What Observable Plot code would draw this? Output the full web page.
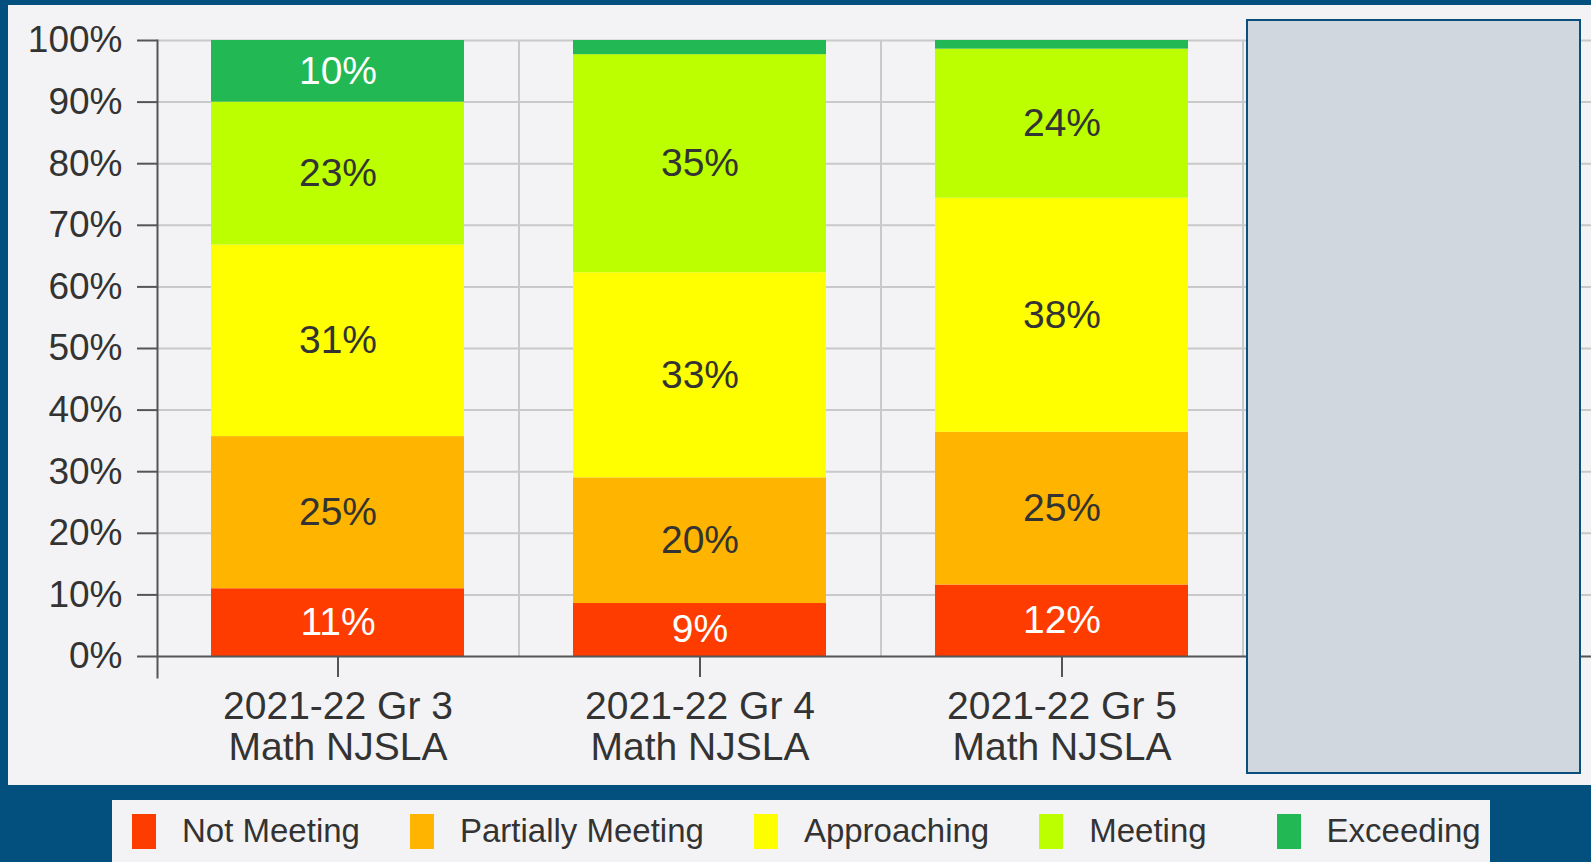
<!DOCTYPE html>
<html>
<head>
<meta charset="utf-8">
<script src="https://cdn.jsdelivr.net/npm/d3@7"></script>
<script src="https://cdn.jsdelivr.net/npm/@observablehq/plot@0.6"></script>
<style>
  html, body { margin: 0; padding: 0; width: 1591px; height: 862px; overflow: hidden; background: #03507f; font-family: "Liberation Sans", Arial, sans-serif; }
  #panel { position: absolute; left: 8px; top: 5px; width: 1583px; height: 780px; background: #f3f3f5; }
  #mask { position: absolute; left: 1246px; top: 19px; width: 331px; height: 751px; background: #d0d7df; border: 2px solid #0b4f7c; }
  #legend { position: absolute; left: 112px; top: 800px; width: 1378px; height: 62px; background: #f3f3f5; display: flex; align-items: center; box-sizing: border-box; padding-left: 20px; white-space: nowrap; }
  .item { display: flex; align-items: center; margin-right: 50px; flex-shrink: 0; }
  .item:nth-child(4) { margin-right: 70px; }
  .sw { width: 24px; height: 35px; margin-right: 26px; flex-shrink: 0; }
  .lab { font-size: 33px; color: #333; white-space: nowrap; }
</style>
</head>
<body>
<div id="panel"></div>
<div id="mask"></div>
<div id="legend"></div>
<script>
const categories = ["2021-22 Gr 3\nMath NJSLA", "2021-22 Gr 4\nMath NJSLA", "2021-22 Gr 5\nMath NJSLA"];
const levels = ["Not Meeting", "Partially Meeting", "Approaching", "Meeting", "Exceeding"];
const colors = ["#ff3c00", "#ffb400", "#ffff00", "#bbff00", "#22b854"];
const notMeeting = [11.0, 8.6, 11.6];
const partiallyMeeting = [24.7, 20.4, 24.8];
const approaching = [31.1, 33.3, 38.0];
const meeting = [23.2, 35.4, 24.2];
const exceeding = [10.0, 2.3, 1.4];
const yTicks = [0, 10, 20, 30, 40, 50, 60, 70, 80, 90, 100];
const whiteLabelLevels = ["Not Meeting", "Exceeding"];

const series = [notMeeting, partiallyMeeting, approaching, meeting, exceeding];
const rows = [];
categories.forEach((cat, i) => {
  levels.forEach((level, j) => rows.push({cat, level, value: series[j][i]}));
});
const labelOf = d => d.value >= 5 ? Math.round(d.value) + "%" : "";

const step = 362;
const chart = Plot.plot({
  width: 1583,
  height: 780,
  marginLeft: 149,
  marginTop: 35,
  marginBottom: 129,
  marginRight: 0,
  style: {background: "transparent", fontFamily: "'Liberation Sans', Arial, sans-serif", color: "#333"},
  x: {type: "band", domain: categories, range: [149, 149 + 3 * step], paddingInner: 0.3, paddingOuter: 0.15, label: null},
  y: {domain: [0, 100], label: null},
  color: {domain: levels, range: colors},
  marks: [
    Plot.gridY(yTicks.filter(t => t > 0), {stroke: "#c9c9c9", strokeOpacity: 1, strokeWidth: 2}),
    Plot.ruleX(categories, {x: d => d, dx: step / 2, y1: 0, y2: 100, stroke: "#c9c9c9", strokeOpacity: 1, strokeWidth: 2}),
    Plot.barY(rows, {x: "cat", y: "value", fill: "level"}),
    Plot.text(rows, Plot.stackY({x: "cat", y: "value", text: d => whiteLabelLevels.includes(d.level) ? "" : labelOf(d), fill: "#333", fontSize: 39})),
    Plot.text(rows, Plot.stackY({x: "cat", y: "value", text: d => whiteLabelLevels.includes(d.level) ? labelOf(d) : "", fill: "#ffffff", fontSize: 39})),
    Plot.ruleY([0], {stroke: "#555", strokeWidth: 2}),
    Plot.frame({anchor: "left", stroke: "#555", strokeWidth: 2, insetBottom: -21}),
    Plot.axisY(yTicks, {tickSize: 20, tickPadding: 15, tickFormat: d => d + "%", fontSize: 37, stroke: "#555", strokeWidth: 2, fill: "#333", label: null}),
    Plot.axisX({tickSize: 21, tickPadding: 13, fontSize: 39, lineHeight: 1.04, stroke: "#555", strokeWidth: 2, fill: "#333", label: null})
  ]
});
document.getElementById("panel").appendChild(chart);

const legend = document.getElementById("legend");
levels.forEach((level, i) => {
  const item = document.createElement("div");
  item.className = "item";
  const sw = document.createElement("div");
  sw.className = "sw";
  sw.style.background = colors[i];
  const lab = document.createElement("span");
  lab.className = "lab";
  lab.textContent = level;
  item.appendChild(sw);
  item.appendChild(lab);
  legend.appendChild(item);
});
</script>
</body>
</html>
